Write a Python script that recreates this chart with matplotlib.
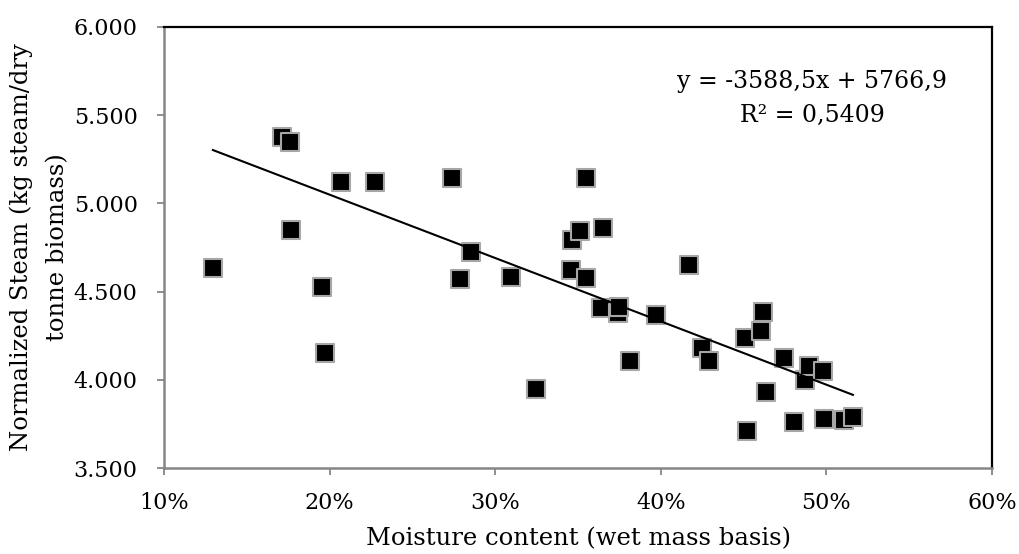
import matplotlib
matplotlib.use("Agg")
import matplotlib.pyplot as plt
from matplotlib.ticker import FuncFormatter, MultipleLocator

# moisture content (fraction, wet basis) and normalized steam (kg steam / dry tonne)
moisture = [
    0.1295, 0.1712, 0.1763, 0.1769, 0.1956, 0.1970, 0.2071, 0.2272, 0.2739, 0.2785,
    0.2856, 0.3093, 0.3248, 0.3455, 0.3463, 0.3510, 0.3550, 0.3550, 0.3637, 0.3650,
    0.3740, 0.3745, 0.3816, 0.3973, 0.4168, 0.4248, 0.4289, 0.4510, 0.4520, 0.4607,
    0.4617, 0.4637, 0.4742, 0.4802, 0.4872, 0.4893, 0.4979, 0.4985, 0.5106, 0.5160,
]
steam = [
    4632, 5378, 5346, 4849, 4528, 4151, 5120, 5123, 5142, 4572,
    4727, 4585, 3947, 4623, 4793, 4844, 5146, 4579, 4406, 4862,
    4378, 4415, 4108, 4368, 4651, 4183, 4109, 4236, 3711, 4279,
    4387, 3934, 4126, 3760, 4000, 4079, 4051, 3779, 3773, 3792,
]

# linear trend as reported
slope = -3588.5
intercept = 5766.9
r_squared = 0.5409

plt.rcParams["font.family"] = ["DejaVu Serif"]

fig = plt.figure(figsize=(10.19, 5.54), dpi=100)
ax = fig.add_axes([0.161, 0.155, 0.8125, 0.7965])

ax.scatter(moisture, steam, marker="s", s=150, c="black",
           edgecolors="#a6a6a6", linewidths=1.5, zorder=3)

x_fit = [min(moisture), max(moisture)]
y_fit = [slope * x + intercept for x in x_fit]
ax.plot(x_fit, y_fit, color="black", lw=1.5, zorder=4)

eq = "y = {}x + {}\nR² = {}".format(
    f"{slope:.1f}".replace(".", ","),
    f"{intercept:.1f}".replace(".", ","),
    f"{r_squared:.4f}".replace(".", ","))
ax.text(0.7826, 0.837, eq, transform=ax.transAxes, ha="center", va="center",
        fontsize=17, linespacing=1.6)

ax.set_xlim(0.10, 0.60)
ax.set_ylim(3500, 6000)
ax.xaxis.set_major_locator(MultipleLocator(0.10))
ax.yaxis.set_major_locator(MultipleLocator(500))
ax.xaxis.set_major_formatter(FuncFormatter(lambda v, p: f"{v * 100:.0f}%"))
ax.yaxis.set_major_formatter(FuncFormatter(lambda v, p: f"{v:,.0f}".replace(",", ".")))

for side in ("left", "bottom"):
    ax.spines[side].set_color("#868686")
    ax.spines[side].set_linewidth(1.8)
for side in ("top", "right"):
    ax.spines[side].set_color("black")
    ax.spines[side].set_linewidth(1.6)

ax.tick_params(axis="both", direction="out", length=5, width=1.3,
               color="#868686", labelsize=16)
ax.tick_params(axis="y", pad=14)
ax.tick_params(axis="x", pad=12)

ax.set_xlabel("Moisture content (wet mass basis)", fontsize=17.5, labelpad=10)
ax.set_ylabel("Normalized Steam (kg steam/dry\ntonne biomass)", fontsize=17.5,
              labelpad=3, linespacing=1.75)

fig.savefig("out.png", dpi=100)
